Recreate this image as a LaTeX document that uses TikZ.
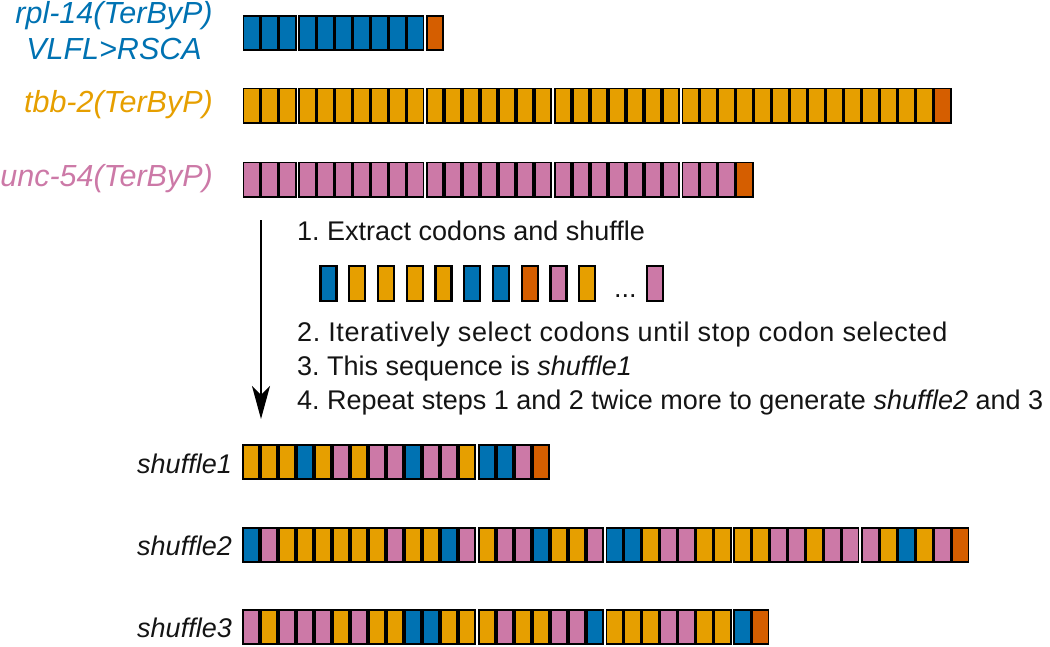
\documentclass[tikz,border=0pt]{standalone}
\usepackage{fontspec}
\setmainfont{Liberation Sans}
\usetikzlibrary{arrows.meta}
\definecolor{colB}{HTML}{0072B2}
\definecolor{colY}{HTML}{E69F00}
\definecolor{colO}{HTML}{D55E00}
\definecolor{colP}{HTML}{CC79A7}
\definecolor{txt}{HTML}{141414}
\def\gapmark{G}
\newcommand{\cellrow}[3]{%
  \xdef\cx{#1}%
  \foreach \c in {#3}{%
    \ifx\c\gapmark
      \pgfmathsetmacro\nx{\cx+1.8}\xdef\cx{\nx}%
    \else
      \draw[codon,fill=col\c] ({\cx+0.85},{#2+0.85}) rectangle ({\cx+17.15},{#2+35.15});
      \pgfmathsetmacro\nx{\cx+18}\xdef\cx{\nx}%
    \fi}%
}
\tikzset{
  codon/.style={draw=black,line width=1.7pt},
  loose/.style={draw=black,line width=2.2pt},
  genelabel/.style={font=\fontsize{30.5}{34}\selectfont\itshape,inner sep=0pt},
  shuflabel/.style={font=\fontsize{27}{30}\selectfont\itshape,inner sep=0pt,text=txt},
  steptext/.style={font=\fontsize{27}{30}\selectfont,inner sep=0pt,text=txt,anchor=base west},
  flow/.style={line width=1.9pt,-{Stealth[length=33pt,width=18pt,inset=9pt]}}
}
\frenchspacing
\begin{document}
\begin{tikzpicture}[x=1pt,y=-1pt]
\useasboundingbox (0,0) rectangle (1050,646);
% gene labels
\node[genelabel,text=colB,anchor=base] (rpl) at (114,23.5) {rpl-14(TerByP)};
\node[genelabel,text=colB,anchor=base] (vlfl) at (114,59.5) {VLFL>RSCA};
\node[genelabel,text=colY,anchor=base east] (tbb) at (213,112) {tbb-2(TerByP)};
\node[genelabel,text=colP,anchor=base east] (unc) at (213,186) {unc-54(TerByP)};
% gene rows
\cellrow{242.5}{15}{B,B,B,G,B,B,B,B,B,B,B,G,O}
\cellrow{242.5}{87.5}{Y,Y,Y,G,Y,Y,Y,Y,Y,Y,Y,G,Y,Y,Y,Y,Y,Y,Y,G,Y,Y,Y,Y,Y,Y,Y,G,Y,Y,Y,Y,Y,Y,Y,Y,Y,Y,Y,Y,Y,Y,O}
\cellrow{242.5}{161.5}{P,P,P,G,P,P,P,P,P,P,P,G,P,P,P,P,P,P,P,G,P,P,P,P,P,P,P,G,P,P,P,O}
% arrow
\coordinate (astart) at (261,220);
\coordinate (aend) at (261,419);
\draw[flow] (astart) -- (aend);
% steps
\node[steptext] (s1) at (297,240) {1. Extract codons and shuffle};
\node[steptext] (s2) at (297,341.5) {\addfontfeatures{LetterSpace=2.2}2. Iteratively select codons until stop codon selected};
\node[steptext] (s3) at (297,375) {3. This sequence is \textit{shuffle1}};
\node[steptext] (s4) at (297,409.5) {4. Repeat steps 1 and 2 twice more to generate \textit{shuffle2} and 3};
% loose shuffled codons
\foreach \c [count=\i from 0] in {B,Y,Y,Y,Y,B,B,O,P,Y}{%
  \draw[loose,fill=col\c] ({320.5+28.75*\i},266) rectangle ++(16,35);
}
\draw[loose,fill=colP] (647,266) rectangle ++(16,35);
\node[steptext] (dots) at (614,297) {...};
% shuffle labels
\node[shuflabel,anchor=base east] (sh1) at (232,473) {shuffle1};
\node[shuflabel,anchor=base east] (sh2) at (232,555.5) {shuffle2};
\node[shuflabel,anchor=base east] (sh3) at (232,637.5) {shuffle3};
% shuffle rows
\cellrow{242}{444}{Y,Y,Y,B,Y,P,Y,P,P,B,P,P,Y,G,B,B,P,O}
\cellrow{242}{527}{B,P,Y,Y,Y,Y,Y,Y,P,Y,Y,B,P,G,Y,P,P,B,Y,Y,P,G,B,B,Y,P,P,Y,Y,G,Y,Y,P,P,Y,P,P,G,P,Y,B,Y,P,O}
\cellrow{242}{609}{P,Y,P,P,P,Y,P,Y,Y,B,B,Y,Y,G,Y,P,Y,Y,P,P,B,G,Y,Y,Y,P,P,Y,Y,G,B,O}
\end{tikzpicture}
\end{document}
